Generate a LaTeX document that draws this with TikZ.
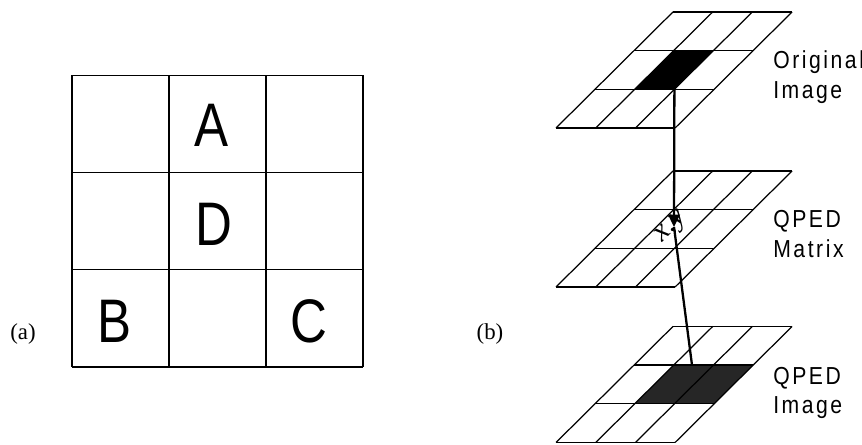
\documentclass[tikz,border=0pt]{standalone}
\usepackage{fontspec}
\setmainfont{Liberation Serif}
\newfontfamily\cellfont{Liberation Sans}
\newfontfamily\planefont[LetterSpace=12]{Liberation Sans}
\usetikzlibrary{arrows.meta}

% one slanted 3x3 plane, #1 = height of its lower edge
\newcommand{\qpedplane}[1]{%
  \begin{scope}[shift={(556,#1)}, xslant=1.008]
    \foreach \r in {0,...,3} \draw[gridline] (0,\r*38.7) -- (119.1,\r*38.7);
    \foreach \c in {0,...,3} \draw[gridline] (\c*39.7,0) -- (\c*39.7,116.1);
  \end{scope}}

\begin{document}
\begin{tikzpicture}[x=0.02cm, y=0.02cm,
  gridline/.style={line width=0.7pt},
  letter/.style={font=\cellfont\fontsize{35}{40}\selectfont, xscale=0.83, inner sep=0pt},
  planelabel/.style={font=\planefont\fontsize{14}{17}\selectfont, xscale=0.86, align=left, anchor=west, inner sep=0pt},
  tag/.style={font=\fontsize{13}{15}\selectfont},
  link/.style={line width=1.3pt}]
\useasboundingbox (0,0) rectangle (862,444);

% (a) neighbourhood grid
\foreach \i in {0,...,3} {
  \draw[line width=0.6pt] (72+97*\i,77) -- (72+97*\i,369);
  \draw[line width=0.6pt] (72,77+97.3*\i) -- (363,77+97.3*\i);
}
\node[letter] (A) at (212,319) {A};
\node[letter] (D) at (214,219.5) {D};
\node[letter] (B) at (115,123) {B};
\node[letter] (C) at (309,123) {C};
\node[tag] (taga) at (23,110) {(a)};

% (b) stacked planes
\begin{scope}[shift={(556,316)}, xslant=1.008]
  \fill (39.7,38.7) -- (79.4,38.7) -- (79.4,77.4) -- (39.7,77.4) -- cycle;
\end{scope}
\begin{scope}[shift={(556,1.5)}, xslant=1.008]
  \fill[black!85] (39.7,38.7) -- (119.1,38.7) -- (119.1,77.4) -- (39.7,77.4) -- cycle;
\end{scope}
\qpedplane{316}
\qpedplane{157}
\qpedplane{1.5}

\node[planelabel] (orig) at (773,367) {Original\\Image};
\node[planelabel] (matrix) at (773,210) {QPED\\Matrix};
\node[planelabel] (qimg) at (773,51) {QPED\\Image};
\node[tag] (tagb) at (490,110) {(b)};

% mapping through the matrix
\coordinate (src) at (674.4,354.7);
\coordinate (hit) at (674,217);
\coordinate (dst) at (692,79);
\draw[link, -{Triangle[length=7pt, width=6.5pt]}] (src) -- (hit);
\draw[link] (hit) -- (dst);
\node[font=\itshape\fontsize{17}{19}\selectfont, rotate=45, inner sep=0pt] (xy) at (672,216) {x,y};
\end{tikzpicture}
\end{document}
